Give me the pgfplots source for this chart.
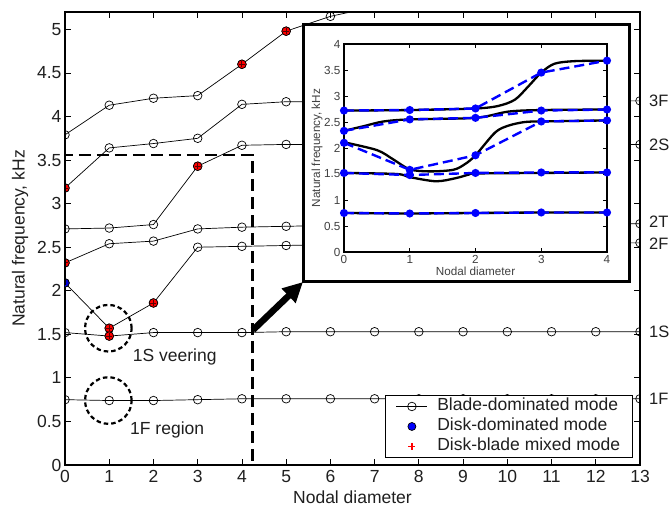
\documentclass[border=0pt]{standalone}
\usepackage{fontspec}
\setmainfont{Liberation Sans}
\usepackage{pgfplots}
\pgfplotsset{compat=1.18}
\usetikzlibrary{arrows.meta}
\newcommand{\mainfs}{\fontsize{17.5bp}{21bp}\selectfont}
\newcommand{\insetfs}{\fontsize{11.7bp}{14bp}\selectfont}
\newcommand{\rightfs}{\fontsize{16.5bp}{19bp}\selectfont}
\pgfplotsset{myleg/.style={legend image code/.code={\draw[mark repeat=2,mark phase=2,##1] plot coordinates {(0bp,0bp) (15.5bp,0bp) (31bp,0bp)};}}}
\begin{document}
\begin{tikzpicture}
\useasboundingbox (-65bp,-41bp) rectangle (605bp,465bp);
\begin{axis}[
  at={(0,0)}, anchor=south west, scale only axis,
  width=575bp, height=453bp,
  xmin=0, xmax=13, ymin=0, ymax=5.2,
  xtick={0,1,2,3,4,5,6,7,8,9,10,11,12,13},
  ytick={0,0.5,1,1.5,2,2.5,3,3.5,4,4.5,5},
  tick align=inside, major tick length=6bp,
  axis line style={line width=1.2bp},
  every tick/.style={black, line width=0.8bp},
  tick label style={font=\mainfs, text=black!88},
  label style={font=\mainfs, text=black!88},
  /pgf/number format/assume math mode=true,
  xlabel={Nodal diameter}, ylabel={Natural frequency, kHz},
  xlabel style={at={(axis description cs:0.5,-0.0706)}, anchor=center},
  ylabel style={at={(axis description cs:-0.0783,0.5)}, anchor=center},
  xticklabel style={yshift=-2bp},
  clip mode=individual, clip marker paths=true,
  legend style={at={(axis description cs:0.988,0.0155)}, anchor=south east,
    draw=black, line width=1bp, fill=white, font=\mainfs, text=black!88,
    row sep=0bp, inner xsep=11bp, inner ysep=1bp,
    /tikz/every odd column/.append style={column sep=8bp},
    nodes={inner sep=1.5bp, text height=13bp, text depth=4bp}},
  legend cell align=left,
]
% blade-dominated families (lines with open circles)
\addplot[forget plot, black, line width=0.7bp, mark=o, mark size=4.3bp, mark options={line width=0.7bp}] coordinates {
 (0,3.79) (1,4.13) (2,4.21) (3,4.24) (4,4.60) (5,4.98) (6,5.15) (7,5.26)};
\addplot[forget plot, black, line width=0.7bp, mark=o, mark size=4.3bp, mark options={line width=0.7bp}] coordinates {
 (0,3.18) (1,3.64) (2,3.69) (3,3.75) (4,4.14) (5,4.17) (6,4.17) (7,4.17) (8,4.17) (9,4.18) (10,4.18) (11,4.18) (12,4.18) (13,4.18)};
\addplot[forget plot, black, line width=0.7bp, mark=o, mark size=4.3bp, mark options={line width=0.7bp}] coordinates {
 (0,2.71) (1,2.72) (2,2.76) (3,3.43) (4,3.67) (5,3.68) (6,3.68) (7,3.68) (8,3.68) (9,3.68) (10,3.68) (11,3.68) (12,3.68) (13,3.68)};
\addplot[forget plot, black, line width=0.7bp, mark=o, mark size=4.3bp, mark options={line width=0.7bp}] coordinates {
 (0,2.32) (1,2.54) (2,2.57) (3,2.71) (4,2.73) (5,2.74) (6,2.75) (7,2.75) (8,2.76) (9,2.76) (10,2.76) (11,2.77) (12,2.77) (13,2.77)};
\addplot[forget plot, black, line width=0.7bp, mark=o, mark size=4.3bp, mark options={line width=0.7bp}] coordinates {
 (0,2.09) (1,1.57) (2,1.86) (3,2.50) (4,2.51) (5,2.52) (6,2.53) (7,2.53) (8,2.54) (9,2.54) (10,2.54) (11,2.55) (12,2.55) (13,2.55)};
\addplot[forget plot, black, line width=0.7bp, mark=o, mark size=4.3bp, mark options={line width=0.7bp}] coordinates {
 (0,1.52) (1,1.48) (2,1.52) (3,1.52) (4,1.52) (5,1.53) (6,1.53) (7,1.53) (8,1.53) (9,1.53) (10,1.53) (11,1.53) (12,1.53) (13,1.53)};
\addplot[forget plot, black, line width=0.7bp, mark=o, mark size=4.3bp, mark options={line width=0.7bp}] coordinates {
 (0,0.75) (1,0.74) (2,0.74) (3,0.75) (4,0.76) (5,0.76) (6,0.76) (7,0.76) (8,0.76) (9,0.76) (10,0.76) (11,0.76) (12,0.76) (13,0.76)};
% disk-blade mixed modes
\addplot[forget plot, only marks, mark=*, mark size=4.3bp, mark options={fill=red, draw=black, line width=0.7bp}] coordinates {
 (0,3.18) (4,4.60) (5,4.98) (3,3.43) (0,2.32) (1,1.57) (2,1.86) (1,1.48)};
\addplot[forget plot, only marks, mark=+, mark size=3bp, mark options={draw=red!35!black, line width=0.9bp}] coordinates {
 (0,3.18) (4,4.60) (5,4.98) (3,3.43) (0,2.32) (1,1.57) (2,1.86) (1,1.48)};
% disk-dominated mode
\addplot[forget plot, only marks, mark=*, mark size=4.3bp, mark options={fill=blue!85!black, draw=black, line width=0.7bp}] coordinates {(0,2.09)};
% legend
\addlegendimage{black, line width=0.7bp, mark=o, mark size=4.3bp, myleg}
\addlegendentry{Blade-dominated mode}
\addlegendimage{only marks, mark=*, mark size=4bp, mark options={fill=blue, draw=black, line width=0.7bp}, myleg}
\addlegendentry{Disk-dominated mode}
\addlegendimage{only marks, mark=+, mark size=3.5bp, mark options={draw=red, line width=1.8bp}, myleg}
\addlegendentry{Disk-blade mixed mode}
% annotations
\draw[black, line width=2.6bp, dash pattern=on 12bp off 6bp] (axis cs:0,0) rectangle (axis cs:4.24,3.56);
\draw[black, line width=2.2bp, dash pattern=on 4.5bp off 3bp] (axis cs:0.98,1.57) circle[radius=23.3bp];
\draw[black, line width=2.2bp, dash pattern=on 4.5bp off 3bp] (axis cs:0.98,0.74) circle[radius=23.3bp];
\node[anchor=west, inner sep=0, font=\mainfs, text=black!88] at (axis cs:1.53,1.24) {1S veering};
\node[anchor=west, inner sep=0, font=\mainfs, text=black!88] at (axis cs:1.47,0.40) {1F region};
\node[anchor=west, inner sep=0, font=\rightfs, text=black!88, xshift=9bp] at (axis cs:13,4.18) {3F};
\node[anchor=west, inner sep=0, font=\rightfs, text=black!88, xshift=9bp] at (axis cs:13,3.68) {2S};
\node[anchor=west, inner sep=0, font=\rightfs, text=black!88, xshift=9bp] at (axis cs:13,2.79) {2T};
\node[anchor=west, inner sep=0, font=\rightfs, text=black!88, xshift=9bp] at (axis cs:13,2.54) {2F};
\node[anchor=west, inner sep=0, font=\rightfs, text=black!88, xshift=9bp] at (axis cs:13,1.53) {1S};
\node[anchor=west, inner sep=0, font=\rightfs, text=black!88, xshift=9bp] at (axis cs:13,0.76) {1F};
\end{axis}
% inset frame and arrow
\draw[line width=3bp, fill=white] (238bp,183bp) rectangle (564bp,440bp);
\draw[line width=6.5bp, -{Triangle[length=20bp,width=19bp]}] (188bp,135bp) -- (238bp,183bp);
\begin{axis}[
  at={(279bp,213bp)}, anchor=south west, scale only axis,
  width=263bp, height=208bp,
  xmin=0, xmax=4, ymin=0, ymax=4,
  xtick={0,1,2,3,4}, ytick={0,0.5,1,1.5,2,2.5,3,3.5,4},
  tick align=inside, major tick length=4bp,
  axis line style={line width=1.5bp},
  every tick/.style={black, line width=0.7bp},
  tick label style={font=\insetfs, text=black!75},
  label style={font=\insetfs, text=black!75},
  /pgf/number format/assume math mode=true,
  xlabel={Nodal diameter}, ylabel={Natural frequency, kHz},
  xlabel style={at={(axis description cs:0.5,-0.0913)}, anchor=center},
  ylabel style={at={(axis description cs:-0.1027,0.5)}, anchor=center},
  clip=false,
]
\addplot[black, line width=2.3bp, smooth] coordinates {
 (0,2.72) (1,2.73) (2,2.76) (2.35,2.81) (2.6,2.93) (2.8,3.18) (3,3.45) (3.2,3.62) (3.5,3.67) (4,3.68)};
\addplot[black, line width=2.3bp, smooth] coordinates {
 (0,2.33) (0.3,2.42) (0.6,2.51) (1,2.55) (2,2.58) (2.5,2.70) (3,2.73) (4,2.74)};
\addplot[black, line width=2.3bp, smooth] coordinates {
 (0,2.11) (0.5,1.96) (0.75,1.78) (1,1.59) (1.3,1.55) (1.66,1.58) (1.84,1.69) (2,1.86) (2.3,2.30) (2.5,2.43) (2.75,2.50) (3,2.51) (4,2.53)};
\addplot[black, line width=2.3bp, smooth] coordinates {
 (0,1.52) (0.8,1.50) (1,1.44) (1.4,1.36) (1.7,1.42) (1.9,1.49) (2,1.51) (3,1.52) (4,1.53)};
\addplot[black, line width=2.3bp] coordinates {
 (0,0.75) (1,0.74) (2,0.75) (3,0.76) (4,0.76)};
\addplot[blue, line width=2.4bp, dash pattern=on 10bp off 5bp, mark=*, mark size=2.8bp, mark options={solid, fill=blue, draw=blue}] coordinates {
 (0,2.72) (1,2.73) (2,2.76) (3,3.45) (4,3.68)};
\addplot[blue, line width=2.4bp, dash pattern=on 10bp off 5bp, mark=*, mark size=2.8bp, mark options={solid, fill=blue, draw=blue}] coordinates {
 (0,2.33) (1,2.55) (2,2.58) (3,2.72) (4,2.74)};
\addplot[blue, line width=2.4bp, dash pattern=on 10bp off 5bp, mark=*, mark size=2.8bp, mark options={solid, fill=blue, draw=blue}] coordinates {
 (0,2.10) (1,1.58) (2,1.86) (3,2.51) (4,2.53)};
\addplot[blue, line width=2.4bp, dash pattern=on 10bp off 5bp, mark=*, mark size=2.8bp, mark options={solid, fill=blue, draw=blue}] coordinates {
 (0,1.52) (1,1.48) (2,1.52) (3,1.53) (4,1.53)};
\addplot[blue, line width=2.4bp, dash pattern=on 10bp off 5bp, mark=*, mark size=2.8bp, mark options={solid, fill=blue, draw=blue}] coordinates {
 (0,0.75) (1,0.74) (2,0.75) (3,0.76) (4,0.76)};
\end{axis}
\end{tikzpicture}
\end{document}
